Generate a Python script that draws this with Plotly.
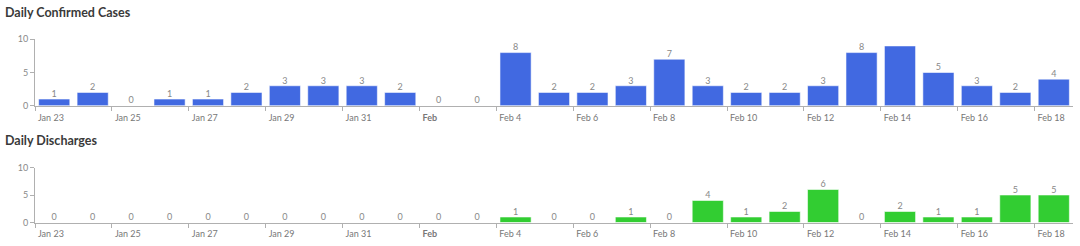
import plotly.graph_objects as go
import pandas as pd

dates = pd.date_range("2020-01-23", "2020-02-18", freq="D")
confirmed = [1, 2, 0, 1, 1, 2, 3, 3, 3, 2, 0, 0, 8, 2, 2, 3, 7, 3, 2, 2, 3, 8, 9, 5, 3, 2, 4]
discharges = [0, 0, 0, 0, 0, 0, 0, 0, 0, 0, 0, 0, 1, 0, 0, 1, 0, 4, 1, 2, 6, 0, 2, 1, 1, 5, 5]
# value label shown above each bar (the Feb 14 label is not drawn in the original)
confirmed_labels = [str(v) for v in confirmed]
confirmed_labels[22] = ""
discharge_labels = [str(v) for v in discharges]

tick_dates = dates[::2]
tick_text = ["Jan 23", "Jan 25", "Jan 27", "Jan 29", "Jan 31", "<b>Feb</b>", "Feb 4",
             "Feb 6", "Feb 8", "Feb 10", "Feb 12", "Feb 14", "Feb 16", "Feb 18"]

BLUE = "#4169E1"
GREEN = "#32CD32"
AXIS = "#b0b0b0"
FONT = "Lato, 'Open Sans', sans-serif"
W, H = 1080, 246
ML, MR = 35, 6.5

fig = go.Figure()

for vals, labels, color, xa, ya in [
    (confirmed, confirmed_labels, BLUE, "x", "y"),
    (discharges, discharge_labels, GREEN, "x2", "y2"),
]:
    fig.add_trace(go.Bar(
        x=dates, y=vals, xperiod=86400000, xperiodalignment="middle",
        marker=dict(color=color, line=dict(color="rgba(255,255,255,0.55)", width=1)),
        xaxis=xa, yaxis=ya, hoverinfo="x+y", showlegend=False,
    ))
    fig.add_trace(go.Scatter(
        x=dates, y=vals, xperiod=86400000, xperiodalignment="middle",
        mode="text", text=labels, textposition="top center",
        textfont=dict(size=9, color="#888888", family=FONT),
        xaxis=xa, yaxis=ya, hoverinfo="skip", showlegend=False, cliponaxis=False,
    ))

xrange = [dates[0], dates[-1] + pd.Timedelta(days=1)]
xcommon = dict(
    type="date", range=xrange, tickmode="array", tickvals=tick_dates, ticktext=tick_text,
    ticks="outside", ticklen=4, tickcolor=AXIS, showline=True, linecolor=AXIS, linewidth=1,
    showgrid=False, zeroline=False, ticklabelposition="outside right", ticklabelshift=2,
    ticklabelstandoff=3,
    tickfont=dict(size=9, color="#777777", family=FONT), automargin=False, fixedrange=True,
)
ycommon = dict(
    range=[0, 10], tickvals=[0, 5, 10], ticks="outside", ticklen=4, tickcolor=AXIS,
    showline=True, linecolor=AXIS, linewidth=1, showgrid=False, zeroline=False,
    tickfont=dict(size=9, color="#888888", family=FONT), automargin=False, fixedrange=True,
)

top_dom = [1 - 105.7 / H, 1 - 39.3 / H]
bot_dom = [1 - 222.5 / H, 1 - 167.5 / H]

fig.update_layout(
    width=W, height=H,
    margin=dict(l=ML, r=MR, t=0, b=0),
    paper_bgcolor="white", plot_bgcolor="white",
    bargap=0.19,
    font=dict(family=FONT),
    xaxis=dict(**xcommon, anchor="y"),
    yaxis=dict(**ycommon, domain=top_dom, anchor="x"),
    xaxis2=dict(**xcommon, anchor="y2"),
    yaxis2=dict(**ycommon, domain=bot_dom, anchor="x2"),
    annotations=[
        dict(text="Daily Confirmed Cases", xref="paper", yref="paper",
             x=-(ML - 3) / (W - ML - MR), y=1 - 12 / H, xanchor="left", yanchor="middle",
             showarrow=False, font=dict(size=12.5, color="#3a3a3a", family=FONT, weight=700)),
        dict(text="Daily Discharges", xref="paper", yref="paper",
             x=-(ML - 3) / (W - ML - MR), y=1 - 140 / H, xanchor="left", yanchor="middle",
             showarrow=False, font=dict(size=12.5, color="#3a3a3a", family=FONT, weight=700)),
    ],
)

fig.write_html("out.html")
